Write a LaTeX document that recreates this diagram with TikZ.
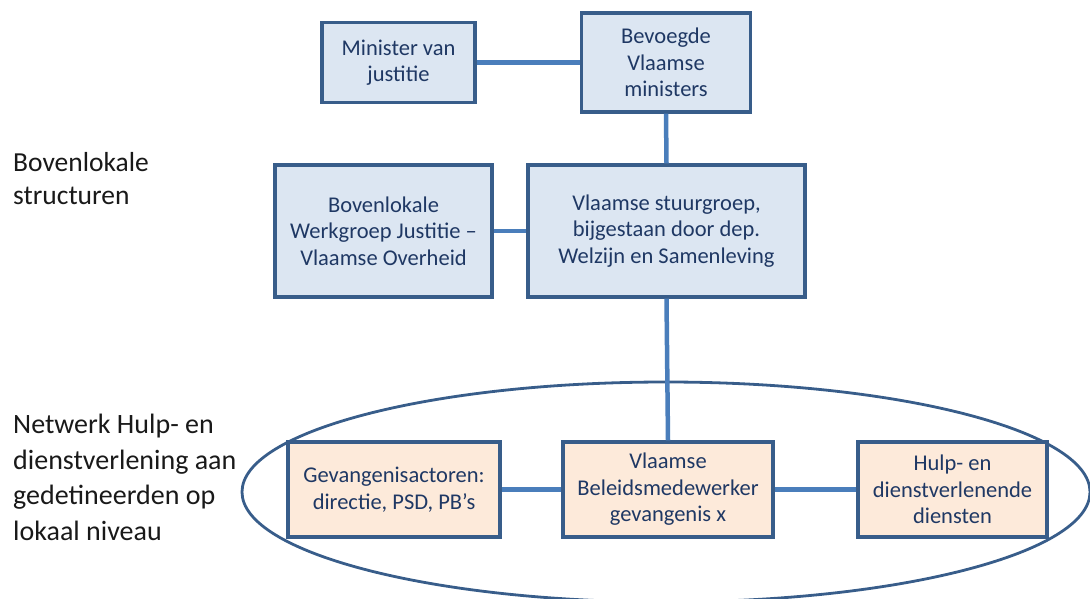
\documentclass[tikz,border=0pt]{standalone}
\usepackage{fontspec}
\setmainfont{Carlito}
\usetikzlibrary{shapes.geometric}
\definecolor{boxfill}{RGB}{220,230,242}
\definecolor{orfill}{RGB}{253,234,218}
\definecolor{boxline}{RGB}{56,93,138}
\definecolor{conn}{RGB}{74,126,187}
\definecolor{txt}{RGB}{31,56,100}
\begin{document}
\begin{tikzpicture}[x=1pt,y=-1pt,
  bbox/.style={draw=boxline, line width=3.2pt, fill=boxfill, align=center, text=txt,
    font=\fontsize{22.5}{26.5}\selectfont, inner sep=0pt},
  obox/.style={bbox, fill=orfill},
  link/.style={draw=conn, line width=4.5pt},
  side/.style={anchor=north west, align=left, text=black!90, font=\fontsize{28}{35.5}\selectfont, inner sep=0pt}]
\useasboundingbox (0,0) rectangle (1090,599);
% ellipse
\node[draw=boxline, line width=2.8pt, ellipse, minimum width=848pt, minimum height=220pt, inner sep=0pt] (ell) at (666,492) {};
% boxes
\node[bbox, minimum width=153pt, minimum height=80pt] (min) at (398.5,62.5) {Minister van\\justitie};
\node[bbox, minimum width=169pt, minimum height=99pt] (bev) at (666,62.5) {Bevoegde\\Vlaamse\\ministers};
\node[bbox, minimum width=217pt, minimum height=132pt] (werk) at (383.5,231) {Bovenlokale\\Werkgroep Justitie –\\Vlaamse Overheid};
\node[bbox, minimum width=277pt, minimum height=132pt] (stuur) at (666.5,231) {Vlaamse stuurgroep,\\bijgestaan door dep.\\Welzijn en Samenleving};
\node[obox, minimum width=212pt, minimum height=95pt] (gev) at (394,489.5) {Gevangenisactoren:\\directie, PSD, PB’s};
\node[obox, minimum width=210pt, minimum height=95pt] (bel) at (668,489.5) {Vlaamse\\Beleidsmedewerker\\gevangenis x};
\node[obox, minimum width=189pt, minimum height=95pt] (hulp) at (952.5,489.5) {Hulp- en\\dienstverlenende\\diensten};
% connectors
\draw[link] (min.east) -- (bev.west|-min.east);
\draw[link] (bev.south) -- (stuur.north);
\draw[link] (werk.east) -- (stuur.west);
\draw[link] (stuur.south) -- (bel.north);
\draw[link] (gev.east) -- (bel.west);
\draw[link] (bel.east) -- (hulp.west);
% side labels
\node[side, font=\fontsize{27.5}{33.5}\selectfont] (lab1) at (13,152) {Bovenlokale\\structuren};
\node[side] (lab2) at (13,414) {Netwerk Hulp- en\\dienstverlening aan\\gedetineerden op\\lokaal niveau};
\end{tikzpicture}
\end{document}
